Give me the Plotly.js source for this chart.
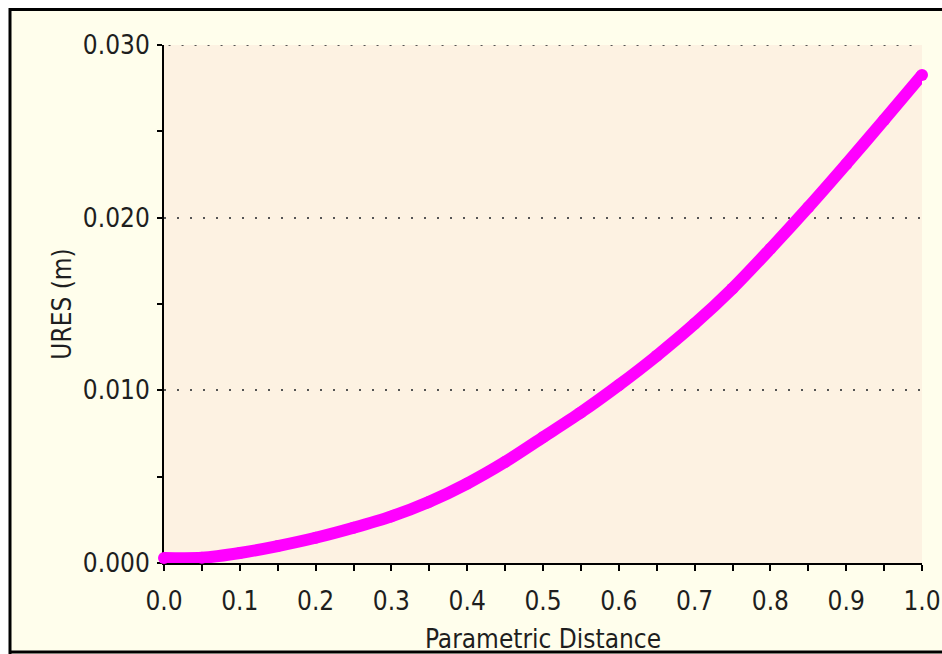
<!DOCTYPE html>
<html>
<head>
<meta charset="utf-8">
<script src="https://cdn.plot.ly/plotly-3.0.1.min.js"></script>
<style>
  html, body { margin: 0; padding: 0; background: #ffffff; }
  #chart { width: 942px; height: 654px; }
</style>
</head>
<body>
<div id="chart"></div>
<script>
// Parametric distance along the path (0..1)
const distance = [0.00, 0.05, 0.10, 0.15, 0.20, 0.25, 0.30, 0.35, 0.40, 0.45, 0.50,
                  0.55, 0.60, 0.65, 0.70, 0.75, 0.80, 0.85, 0.90, 0.95, 1.00];
// Resultant displacement URES (m)
const ures = [0.00029, 0.00030, 0.00058, 0.00098, 0.00146, 0.00204, 0.00270, 0.00355,
              0.00460, 0.00585, 0.00728, 0.00872, 0.01030, 0.01200, 0.01385, 0.01590,
              0.01820, 0.02060, 0.02310, 0.02566, 0.02826];
const xTickVals = [0, 0.1, 0.2, 0.3, 0.4, 0.5, 0.6, 0.7, 0.8, 0.9, 1.0];
const xTickText = ['0.0', '0.1', '0.2', '0.3', '0.4', '0.5', '0.6', '0.7', '0.8', '0.9', '1.0'];
const yTickVals = [0.000, 0.010, 0.020, 0.030];
const yTickText = ['0.000', '0.010', '0.020', '0.030'];
const yMax = 0.030;
const xTitle = 'Parametric Distance';
const yTitle = 'URES (m)';

const FONT = '"Liberation Sans Narrow", "DejaVu Sans Condensed", "Liberation Sans", sans-serif';
const TXT = '#1e1e1e';
const GRID = '#555555';
const GRIDDASH = '2px,11px';

const trace = {
  x: distance,
  y: ures,
  type: 'scatter',
  mode: 'lines+markers',
  line: { color: '#ff00ff', width: 12, shape: 'spline', smoothing: 0.8 },
  marker: { color: '#ff00ff', size: 12, symbol: 'circle' },
  cliponaxis: false,
  hoverinfo: 'x+y'
};

// paper-space helpers for the outer frame (plot area: x 164..922, y 45..563)
const L = 164, R = 922, T = 45, B = 563;
const px = v => (v - L) / (R - L);
const py = v => (B - v) / (B - T);

const layout = {
  width: 942,
  height: 654,
  paper_bgcolor: '#fffeec',
  plot_bgcolor: '#fdf2e2',
  margin: { l: L, r: 942 - R, t: T, b: 654 - B, pad: 0 },
  showlegend: false,
  font: { family: FONT, size: 26, color: TXT },
  xaxis: {
    range: [0, 1],
    tickmode: 'array',
    tickvals: xTickVals,
    ticktext: xTickText,
    ticks: 'outside',
    ticklen: 6,
    tickwidth: 2,
    tickcolor: '#000',
    minor: { dtick: 0.05, ticks: 'outside', ticklen: 6, tickwidth: 2, tickcolor: '#000', showgrid: false },
    showline: true,
    linecolor: '#000',
    linewidth: 2,
    showgrid: false,
    zeroline: false,
    layer: 'below traces',
    tickfont: { family: FONT, size: 26, color: TXT },
    ticklabelstandoff: 8,
    title: { text: xTitle, font: { family: FONT, size: 26, color: TXT }, standoff: 17 },
    fixedrange: true
  },
  yaxis: {
    range: [0, yMax],
    tickmode: 'array',
    tickvals: yTickVals,
    ticktext: yTickText,
    ticks: 'outside',
    ticklen: 5,
    tickwidth: 2,
    tickcolor: '#000',
    minor: { dtick: 0.005, ticks: 'outside', ticklen: 5, tickwidth: 2, tickcolor: '#000', showgrid: false },
    showline: true,
    linecolor: '#000',
    linewidth: 2,
    showgrid: true,
    gridcolor: GRID,
    gridwidth: 2,
    griddash: GRIDDASH,
    zeroline: false,
    layer: 'below traces',
    tickfont: { family: FONT, size: 26, color: TXT },
    ticklabelstandoff: 2,
    title: { text: yTitle, font: { family: FONT, size: 26, color: TXT }, standoff: 4 },
    fixedrange: true
  },
  shapes: [
    // dotted gridline at the top value (Plotly drops the grid line lying on the plot edge)
    { type: 'line', xref: 'paper', yref: 'y', x0: 0.006, x1: 1, y0: yMax, y1: yMax,
      line: { color: GRID, width: 2, dash: GRIDDASH }, layer: 'below' },
    // white outside the frame (top strip and left strip)
    { type: 'rect', xref: 'paper', yref: 'paper', x0: px(0), x1: px(942), y0: py(8), y1: py(0),
      fillcolor: '#ffffff', line: { width: 0 }, layer: 'above' },
    { type: 'rect', xref: 'paper', yref: 'paper', x0: px(0), x1: px(9), y0: py(654), y1: py(0),
      fillcolor: '#ffffff', line: { width: 0 }, layer: 'above' },
    // black frame lines
    { type: 'line', xref: 'paper', yref: 'paper', x0: px(9), x1: px(942), y0: py(9.5), y1: py(9.5),
      line: { color: '#000', width: 3 }, layer: 'above' },
    { type: 'line', xref: 'paper', yref: 'paper', x0: px(10), x1: px(10), y0: py(8), y1: py(654),
      line: { color: '#000', width: 3 }, layer: 'above' },
    { type: 'line', xref: 'paper', yref: 'paper', x0: px(9), x1: px(942), y0: py(652), y1: py(652),
      line: { color: '#000', width: 3 }, layer: 'above' }
  ]
};

Plotly.newPlot('chart', [trace], layout, { displayModeBar: false, staticPlot: true });
</script>
</body>
</html>
